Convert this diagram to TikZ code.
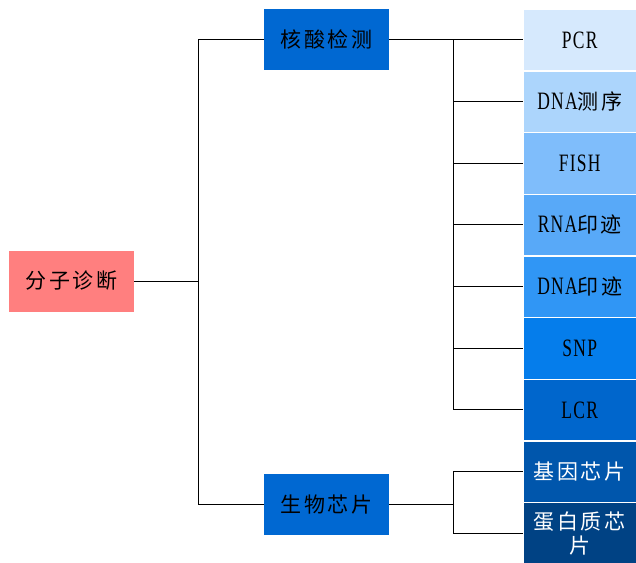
\documentclass[tikz,border=0pt]{standalone}
\usepackage{fontspec}
\setmainfont[FakeStretch=0.7,LetterSpace=5]{Liberation Serif}
\newfontfamily\cjk[LetterSpace=12]{Noto Sans CJK SC}
\newcommand\latx[1]{{\fontsize{25}{24}\selectfont #1}}
\definecolor{pinkbox}{RGB}{255,127,127}
\definecolor{midblue}{RGB}{0,104,210}
\definecolor{c1}{RGB}{214,233,253}
\definecolor{c2}{RGB}{172,213,252}
\definecolor{c3}{RGB}{127,189,251}
\definecolor{c4}{RGB}{88,169,248}
\definecolor{c5}{RGB}{48,150,245}
\definecolor{c6}{RGB}{5,125,235}
\definecolor{c7}{RGB}{0,102,204}
\definecolor{c8}{RGB}{0,86,172}
\definecolor{c9}{RGB}{0,66,132}
\begin{document}
\begin{tikzpicture}[x=1pt,y=-1pt,
  txt/.style={font=\fontsize{21}{24}\selectfont, text=black, inner sep=0pt, align=center},
  mainbox/.style={txt, minimum width=125pt, minimum height=61pt},
  leaf/.style={txt, minimum width=113pt, minimum height=61.2pt, anchor=north west, draw=white, line width=0.5pt},
  conn/.style={draw=black, line width=0.8pt}
]
\useasboundingbox (0,0) rectangle (636,562);
\node[mainbox, fill=pinkbox] (root) at (71.5,281) {\cjk 分子诊断};
\node[mainbox, fill=midblue] (nuc) at (326.5,39.5) {\cjk 核酸检测};
\node[mainbox, fill=midblue] (chip) at (326.5,504.5) {\cjk 生物芯片};

\node[leaf, fill=c1] (r1) at (523,9) {\latx{PCR}};
\node[leaf, fill=c2] (r2) at (523,70.7) {\latx{DNA}{\cjk 测序}};
\node[leaf, fill=c3] (r3) at (523,132.3) {\latx{FISH}};
\node[leaf, fill=c4] (r4) at (523,194) {\latx{RNA}{\cjk 印迹}};
\node[leaf, fill=c5] (r5) at (523,255.7) {\latx{DNA}{\cjk 印迹}};
\node[leaf, fill=c6] (r6) at (523,317.3) {\latx{SNP}};
\node[leaf, fill=c7] (r7) at (523,379) {\latx{LCR}};
\node[leaf, fill=c8, text=white] (r8) at (523,440.7) {\cjk 基因芯片};
\node[leaf, fill=c9, text=white] (r9) at (523,502.3) {\cjk 蛋白质芯\\\cjk 片};

\coordinate (b1) at (198,281);
\coordinate (b2) at (453,39.5);
\coordinate (b3) at (453,504.5);

\draw[conn] (root.east) -- (b1);
\draw[conn] (nuc.west) -| (b1);
\draw[conn] (chip.west) -| (b1);

\draw[conn] (nuc.east) -- (b2) -- (b2 -| r1.west);
\foreach \i in {2,...,7} { \draw[conn] (r\i.west) -| (b2); }

\draw[conn] (chip.east) -- (b3);
\draw[conn] (r8.west) -| (b3);
\draw[conn] (r9.west) -| (b3);
\end{tikzpicture}
\end{document}
